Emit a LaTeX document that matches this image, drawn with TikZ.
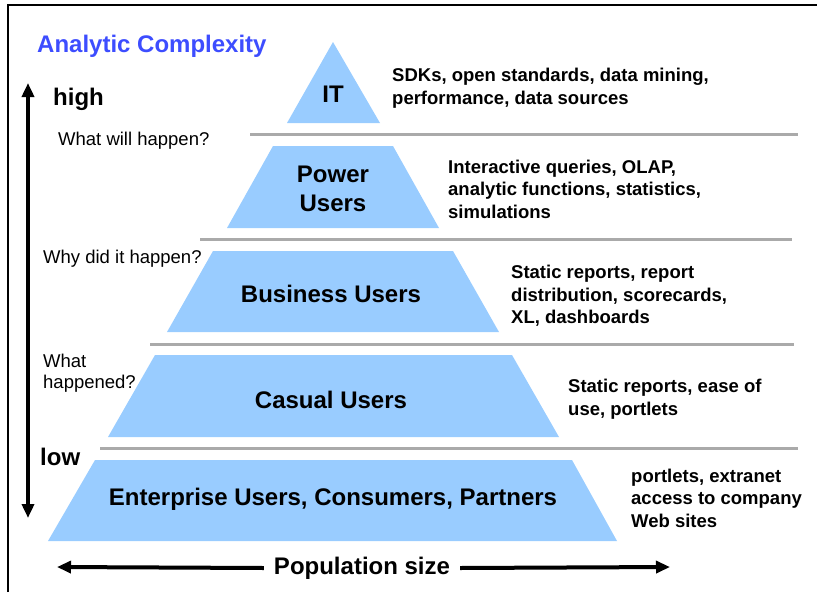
\documentclass[tikz,border=0pt]{standalone}
\usepackage{fontspec}
\setmainfont{Liberation Sans}
\usepackage{tikz}
\usetikzlibrary{arrows.meta}
\definecolor{layerblue}{HTML}{99CCFF}
\definecolor{titleblue}{HTML}{3D4DFF}
\definecolor{rulegray}{HTML}{AAAAAA}

\begin{document}
\begin{tikzpicture}[x=1pt,y=-1pt,>={Triangle[length=14pt,width=12pt]},
    layer/.style={fill=layerblue},
    sep/.style={rulegray,line width=3pt},
    lbl/.style={align=center,inner sep=0pt,font=\fontsize{24}{29}\selectfont\bfseries},
    desc/.style={anchor=west,align=left,inner sep=0pt,font=\fontsize{18.5}{22.5}\selectfont\bfseries},
    ask/.style={anchor=west,align=left,inner sep=0pt,font=\fontsize{18.5}{21}\selectfont}]
  \useasboundingbox (0,0) rectangle (817,592);
  \draw[line width=1.5pt] (8,592) -- (8,5) -- (817,5);

  % pyramid layers
  \fill[layer] (333,42) -- (380,123) -- (287,123) -- cycle;
  \fill[layer] (273,146) -- (393,146) -- (439,228) -- (227,228) -- cycle;
  \fill[layer] (213,251) -- (453,251) -- (499,332) -- (167,332) -- cycle;
  \fill[layer] (155,355) -- (512,355) -- (559,437) -- (108,437) -- cycle;
  \fill[layer] (95,460) -- (572,460) -- (617,541) -- (48,541) -- cycle;

  \draw[sep] (250,134) -- (798,134);
  \draw[sep] (200,239) -- (792,239);
  \draw[sep] (150,344) -- (794,344);
  \draw[sep] (100,448) -- (798,448);

  \node[lbl] (it) at (333,94) {IT};
  \node[lbl] (power) at (333,189) {Power\\Users};
  \node[lbl] (business) at (331,294) {Business Users};
  \node[lbl] (casual) at (331,400) {Casual Users};
  \node[lbl] (enterprise) at (333,499) {Enterprise Users, Consumers, Partners};

  \node[desc] (itdesc) at (392,88) {SDKs, open standards, data mining,\\performance, data sources};
  \node[desc] (powerdesc) at (448,189) {Interactive queries, OLAP,\\analytic functions, statistics,\\simulations};
  \node[desc] (businessdesc) at (511,296) {Static reports, report\\distribution, scorecards,\\XL, dashboards};
  \node[desc] (casualdesc) at (568,399) {Static reports, ease of\\use, portlets};
  \node[desc] (enterprisedesc) at (631,498) {portlets, extranet\\access to company\\Web sites};

  \node[anchor=west,inner sep=0pt,text=titleblue,font=\fontsize{24}{29}\selectfont\bfseries]
    (title) at (37,46) {Analytic Complexity};
  \node[anchor=west,inner sep=0pt,font=\fontsize{24}{29}\selectfont\bfseries] (high) at (53,99) {high};
  \node[anchor=west,inner sep=0pt,font=\fontsize{24}{29}\selectfont\bfseries] (low) at (40,457) {low};
  \node[ask] (will) at (58,141) {What will happen?};
  \node[ask] (why) at (43,259) {Why did it happen?};
  \node[ask] (what) at (43,373) {What\\happened?};

  % axes
  \coordinate (hi) at (28,83);
  \coordinate (lo) at (28,518);
  \draw[<->,line width=4pt] (lo) -- (hi);
  \node[inner xsep=10pt,inner ysep=0pt,font=\fontsize{24}{29}\selectfont\bfseries]
    (pop) at (362,568) {Population size};
  \coordinate (popleft) at (57,567);
  \coordinate (popright) at (670,567);
  \draw[->,line width=4pt] (pop.west) -- (popleft);
  \draw[->,line width=4pt] (pop.east) -- (popright);
\end{tikzpicture}
\end{document}
